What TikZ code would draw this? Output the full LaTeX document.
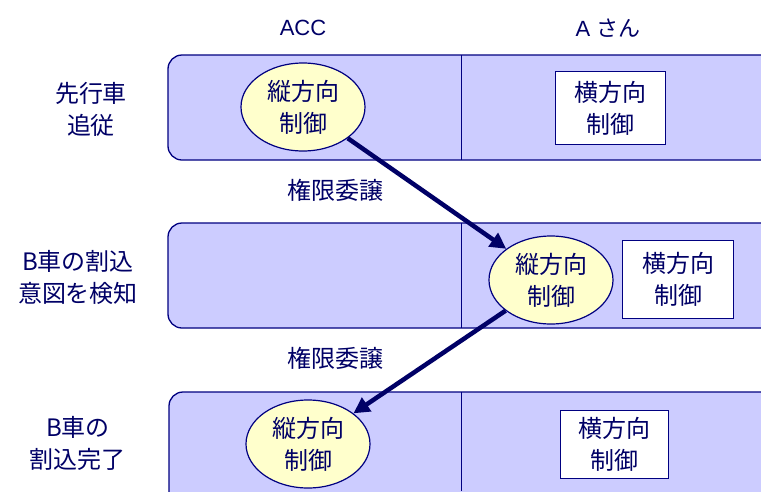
\documentclass[tikz,border=0pt]{standalone}
\usepackage{fontspec}
\setmainfont{Liberation Sans}
\newfontfamily\cjk{Noto Sans CJK JP}
\usetikzlibrary{shapes.geometric,arrows.meta}
\definecolor{navy}{HTML}{000080}
\definecolor{txt}{HTML}{000066}
\definecolor{panelfill}{HTML}{CCCCFF}
\definecolor{ellfill}{HTML}{FFFFCC}
\tikzset{
  panel/.style={draw=navy,fill=panelfill,line width=1.3pt,rounded corners=14pt},
  divider/.style={draw=navy,line width=1pt},
  ctrl/.style={ellipse,draw=navy,fill=ellfill,line width=1.2pt,minimum width=124pt,minimum height=88pt,inner sep=0pt,align=center,text=txt,font=\cjk\fontsize{24}{32}\selectfont},
  lat/.style={rectangle,draw=navy,fill=white,line width=1pt,inner sep=0pt,align=center,text=txt,font=\cjk\fontsize{24}{32}\selectfont},
  lbl/.style={align=center,text=txt,font=\cjk\fontsize{24}{32}\selectfont},
  head/.style={text=txt,font=\fontsize{22}{26}\selectfont},
  hand/.style={draw=txt,line width=4.5pt,-{Triangle[length=16pt,width=16pt]}}
}
\begin{document}
\begin{tikzpicture}[x=1pt,y=-1pt]
\useasboundingbox (0,0) rectangle (761,491);
% headings
\node[head] (hacc) at (303,28) {ACC};
\node[head] (ha) at (608,28) {A {\cjk さん}};
% panels
\path[panel] (168,55) rectangle (775,160);
\path[panel] (168,223) rectangle (775,328);
\path[panel] (169,392) rectangle (775,510);
\draw[divider] (461,55) -- (461,160);
\draw[divider] (461,223) -- (461,328);
\draw[divider] (461,392) -- (461,491);
% row labels
\node[lbl] (l1) at (91,109) {先行車\\追従};
\node[lbl] (l2) at (78,277) {B{\cjk 車の割込}\\意図を検知};
\node[lbl] (l3) at (78,443) {B{\cjk 車の}\\割込完了};
% controls
\node[ctrl] (e1) at (303,107) {縦方向\\制御};
\node[ctrl] (e2) at (551,280) {縦方向\\制御};
\node[ctrl] (e3) at (308,444) {縦方向\\制御};
\node[lat,minimum width=110pt,minimum height=73pt] (b1) at (610,108) {横方向\\制御};
\node[lat,minimum width=111pt,minimum height=78pt] (b2) at (678,279) {横方向\\制御};
\node[lat,minimum width=108pt,minimum height=68pt] (b3) at (614,444) {横方向\\制御};
% transfers
\draw[hand] (e1) -- (e2);
\draw[hand] (e2) -- (e3);
\node[lbl] (t1) at (335,190) {権限委譲};
\node[lbl] (t2) at (335,358) {権限委譲};
\end{tikzpicture}
\end{document}
